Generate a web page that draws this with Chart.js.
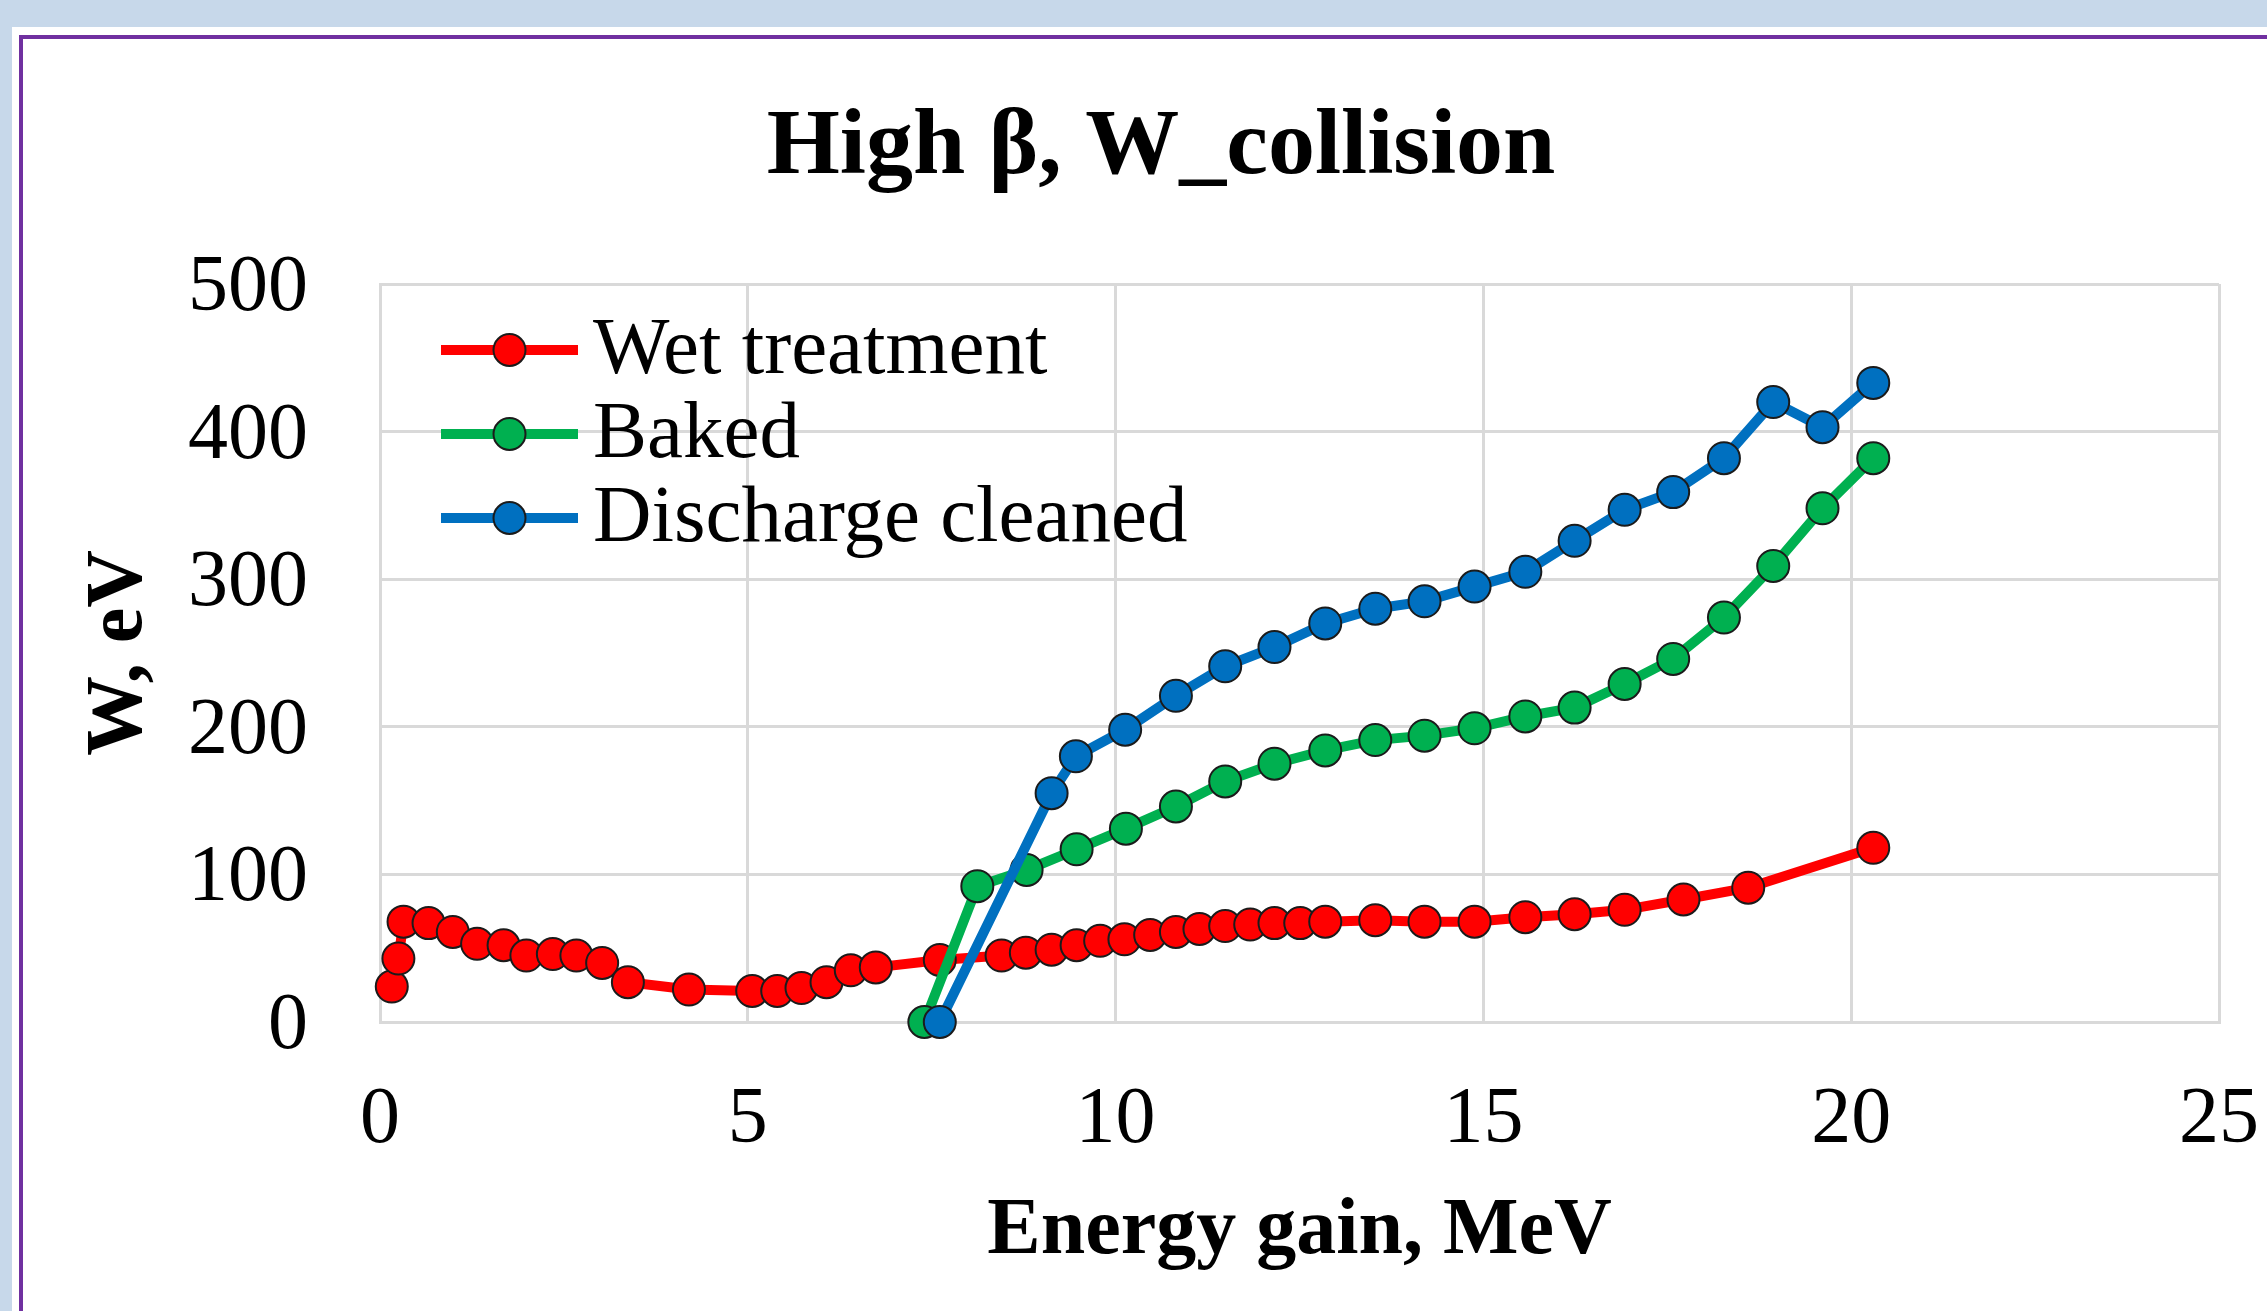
<!DOCTYPE html>
<html>
<head>
<meta charset="utf-8">
<title>High β, W_collision</title>
<script src="https://cdn.jsdelivr.net/npm/chart.js@4"></script>
<style>
  html, body { margin: 0; padding: 0; width: 2267px; height: 1311px; overflow: hidden; background: #C7D8EA; }
  .sheet { position: absolute; left: 12px; top: 27px; right: 0; bottom: 0; background: #FFFFFF; }
  .box { position: absolute; left: 7px; top: 8px; right: -20px; bottom: -20px; border: 4px solid #7030A0; }
  #chart { position: absolute; left: 0; top: 0; }
</style>
</head>
<body>
<div class="sheet"><div class="box"></div></div>
<canvas id="chart" width="2267" height="1311"></canvas>
<script>
  // Wet treatment
  const wetX = [0.16, 0.25, 0.32, 0.66, 0.99, 1.32, 1.68, 1.99, 2.35, 2.67, 3.02, 3.37, 4.20, 5.06, 5.40,
                5.73, 6.07, 6.40, 6.74, 7.61, 8.45, 8.78, 9.13, 9.47, 9.79, 10.12, 10.47, 10.82, 11.14,
                11.49, 11.83, 12.16, 12.51, 12.85, 13.53, 14.20, 14.88, 15.57, 16.24, 16.92, 17.72, 18.60, 20.30];
  const wetY = [24, 43, 68, 67, 61, 53, 52, 45, 46, 45, 40, 27, 22, 21, 21,
                23, 27, 35, 37, 42, 45, 47, 49, 52, 55, 56, 59, 61, 63,
                65, 66, 67, 67, 68, 69, 68, 68, 71, 73, 76, 83, 91, 118];

  // Baked
  const bakedX = [7.40, 8.12, 8.79, 9.47, 10.14, 10.82, 11.49, 12.16, 12.85, 13.53,
                  14.20, 14.88, 15.57, 16.24, 16.92, 17.58, 18.27, 18.94, 19.61, 20.30];
  const bakedY = [0, 92, 103, 117, 131, 146, 163, 175, 184, 191,
                  194, 199, 207, 213, 229, 246, 274, 309, 348, 382];

  // Discharge cleaned
  const cleanX = [7.61, 9.13, 9.46, 10.13, 10.82, 11.49, 12.16, 12.85, 13.53, 14.20,
                  14.88, 15.57, 16.24, 16.92, 17.58, 18.27, 18.94, 19.61, 20.30];
  const cleanY = [0, 155, 180, 198, 221, 241, 254, 270, 280, 285,
                  295, 305, 326, 347, 359, 382, 420, 403, 433];

  const seriesNames = ['Wet treatment', 'Baked', 'Discharge cleaned'];
  const xTicks = [0, 5, 10, 15, 20, 25];
  const yTicks = [0, 100, 200, 300, 400, 500];

  const serif = "'Liberation Serif', 'Times New Roman', serif";

  function toPoints(xs, ys) {
    return xs.map((x, i) => ({ x: x, y: ys[i] }));
  }

  function lineSet(label, data, color, order) {
    return {
      label: label,
      data: data,
      borderColor: color,
      backgroundColor: color,
      borderWidth: 10,
      pointRadius: 16,
      pointBorderWidth: 2,
      pointBackgroundColor: color,
      pointBorderColor: '#1b1b1b',
      tension: 0,
      clip: false,
      order: order
    };
  }

  // legend drawn inside the plot, top-left, like the original
  const insideLegend = {
    id: 'insideLegend',
    afterDraw(chart) {
      const ctx = chart.ctx;
      const area = chart.chartArea;
      const sets = chart.data.datasets;
      ctx.save();
      sets.forEach((ds, i) => {
        const y = area.top + 66 + i * 84;
        const x0 = area.left + 61;
        const x1 = x0 + 137;
        ctx.strokeStyle = ds.borderColor;
        ctx.lineWidth = ds.borderWidth;
        ctx.beginPath();
        ctx.moveTo(x0, y);
        ctx.lineTo(x1, y);
        ctx.stroke();
        ctx.beginPath();
        ctx.arc((x0 + x1) / 2, y, ds.pointRadius, 0, Math.PI * 2);
        ctx.fillStyle = ds.pointBackgroundColor;
        ctx.fill();
        ctx.lineWidth = ds.pointBorderWidth;
        ctx.strokeStyle = ds.pointBorderColor;
        ctx.stroke();
        ctx.fillStyle = '#000000';
        ctx.font = '81px ' + serif;
        ctx.textBaseline = 'middle';
        ctx.textAlign = 'left';
        ctx.fillText(ds.label, x1 + 15, y + 2);
      });
      ctx.restore();
    }
  };

  new Chart(document.getElementById('chart'), {
    type: 'line',
    data: {
      datasets: [
        lineSet(seriesNames[0], toPoints(wetX, wetY), '#FF0000', 2),
        lineSet(seriesNames[1], toPoints(bakedX, bakedY), '#00B050', 1),
        lineSet(seriesNames[2], toPoints(cleanX, cleanY), '#0070C0', 0)
      ]
    },
    options: {
      responsive: false,
      animation: false,
      devicePixelRatio: 1,
      layout: { padding: { left: 103, right: 48, top: 0, bottom: 0 } },
      plugins: {
        legend: { display: false },
        tooltip: { enabled: false },
        title: {
          display: true,
          text: 'High β, W_collision',
          color: '#000000',
          font: { family: serif, size: 94, weight: 'bold', lineHeight: 1 },
          padding: { top: 102, bottom: 88 }
        }
      },
      scales: {
        x: {
          type: 'linear',
          min: xTicks[0],
          max: xTicks[xTicks.length - 1],
          afterBuildTicks: (axis) => { axis.ticks = xTicks.map(v => ({ value: v })); },
          // keep the plot edge where the original has it, the end labels may overhang
          afterFit: (axis) => { axis.paddingLeft = 0; axis.paddingRight = 0; },
          ticks: {
            color: '#000000',
            font: { family: serif, size: 80, lineHeight: 1.2 },
            padding: 51,
            maxRotation: 0
          },
          grid: { color: '#D9D9D9', lineWidth: 3, drawTicks: false },
          border: { color: '#D9D9D9', width: 3 },
          title: {
            display: true,
            text: 'Energy gain, MeV',
            color: '#000000',
            font: { family: serif, size: 80, weight: 'bold', lineHeight: 0.3 },
            padding: { top: 0, bottom: 67 }
          }
        },
        y: {
          type: 'linear',
          min: yTicks[0],
          max: yTicks[yTicks.length - 1],
          afterBuildTicks: (axis) => { axis.ticks = yTicks.map(v => ({ value: v })); },
          afterFit: (axis) => { axis.width = 277; axis.paddingTop = 0; axis.paddingBottom = 0; },
          ticks: {
            color: '#000000',
            font: { family: serif, size: 80, lineHeight: 1.2 },
            padding: 72,
            labelOffset: 5
          },
          grid: { color: '#D9D9D9', lineWidth: 3, drawTicks: false },
          border: { color: '#D9D9D9', width: 3 },
          title: {
            display: true,
            text: 'W, eV',
            color: '#000000',
            font: { family: serif, size: 80, weight: 'bold', lineHeight: 0.4 },
            padding: { top: 1, bottom: 0 }
          }
        }
      }
    },
    plugins: [insideLegend]
  });
</script>
</body>
</html>
